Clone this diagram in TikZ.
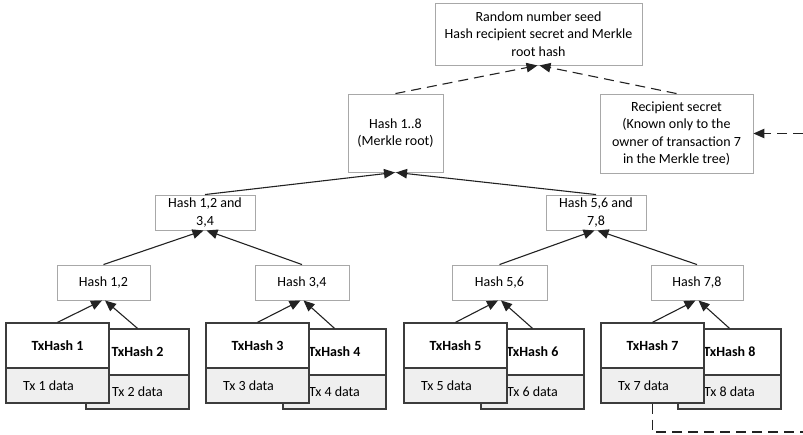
\documentclass[tikz,border=0pt]{standalone}
\usepackage{fontspec}
\setmainfont{Carlito}
\usetikzlibrary{arrows.meta}
\definecolor{boxline}{HTML}{A8A8A8}
\definecolor{txline}{HTML}{3C3C3C}
\definecolor{datafill}{HTML}{EFEFEF}
\definecolor{wire}{HTML}{222222}
\tikzset{
  hashbox/.style={draw=boxline, line width=0.9pt, fill=white, inner sep=0pt,
    align=center, font=\fontsize{14}{17.4}\selectfont},
  txhead/.style={draw=txline, line width=1.3pt, fill=white, inner sep=0pt,
    minimum width=103pt, font=\bfseries\fontsize{14}{17}\selectfont},
  txdata/.style={draw=txline, line width=1.3pt, fill=datafill, inner sep=0pt,
    minimum width=103pt, font=\fontsize{14}{17}\selectfont},
  link/.style={draw=wire, line width=1.1pt, -{Triangle[length=11pt,width=9.5pt]}},
  dlink/.style={link, dash pattern=on 10pt off 6pt},
  dline/.style={draw=wire, line width=1.1pt, dash pattern=on 10pt off 6pt},
}
\begin{document}
\begin{tikzpicture}[x=1pt, y=-1pt]
\useasboundingbox (0,0) rectangle (803,434);

% upper boxes
\node[hashbox, minimum width=207pt, minimum height=62pt] (seed) at (538.5,34)
  {Random number seed\\Hash recipient secret and Merkle\\root hash};
\node[hashbox, minimum width=95pt, minimum height=78pt] (root) at (395.5,133)
  {Hash 1..8\\(Merkle root)};
\node[hashbox, minimum width=153pt, minimum height=79pt] (recip) at (676.5,133.5)
  {Recipient secret\\(Known only to the\\owner of transaction 7\\in the Merkle tree)};

% intermediate hashes
\node[hashbox, minimum width=100pt, minimum height=35pt] (h1234) at (205,212.5) {Hash 1,2 and\\3,4};
\node[hashbox, minimum width=100pt, minimum height=35pt] (h5678) at (596,212.5) {Hash 5,6 and\\7,8};
\node[hashbox, minimum width=93pt, minimum height=35pt] (h12) at (103.5,282.5) {Hash 1,2};
\node[hashbox, minimum width=94pt, minimum height=35pt] (h34) at (302,282.5) {Hash 3,4};
\node[hashbox, minimum width=95pt, minimum height=35pt] (h56) at (499.5,282.5) {Hash 5,6};
\node[hashbox, minimum width=92pt, minimum height=35pt] (h78) at (697,282.5) {Hash 7,8};

% transaction boxes, back row (even) first
\foreach \n/\cx in {2/137.5, 4/334.5, 6/532.5, 8/729.5}{
  \node[txhead, minimum height=46pt] (t\n) at (\cx,352) {TxHash \n};
  \node[txdata, minimum height=34pt] (d\n) at (\cx,392) {Tx \n\ data};
}
\foreach \n/\cx in {1/57.5, 3/257.5, 5/455.5, 7/652.5}{
  \node[txhead, minimum height=45pt] (t\n) at (\cx,345.5) {TxHash \n};
  \node[txdata, minimum height=35pt] (d\n) at (\cx,385.5) {Tx \n\ data\hspace*{18pt}};
}

% leaf links
\draw[link] (t1.north) -- ([xshift=-1.5pt]h12.south);
\draw[link] (t2.north) -- ([xshift=1.5pt]h12.south);
\draw[link] (t3.north) -- ([xshift=-1.5pt]h34.south);
\draw[link] (t4.north) -- ([xshift=1.5pt]h34.south);
\draw[link] (t5.north) -- ([xshift=-1.5pt]h56.south);
\draw[link] (t6.north) -- ([xshift=1.5pt]h56.south);
\draw[link] (t7.north) -- ([xshift=-1.5pt]h78.south);
\draw[link] (t8.north) -- ([xshift=1.5pt]h78.south);

% inner links
\draw[link] (h12.north) -- ([xshift=-1.5pt]h1234.south);
\draw[link] (h34.north) -- ([xshift=1.5pt]h1234.south);
\draw[link] (h56.north) -- ([xshift=-1.5pt]h5678.south);
\draw[link] (h78.north) -- ([xshift=1.5pt]h5678.south);
\draw[link] (h1234.north) -- ([xshift=-0.5pt]root.south);
\draw[link] (h5678.north) -- ([xshift=0.5pt]root.south);

% seed inputs
\draw[dlink] (root.north) -- ([xshift=-1pt]seed.south);
\draw[dlink] (recip.north) -- ([xshift=1pt]seed.south);

% secret path from transaction 7
\coordinate (edgeLow) at (803,432);
\coordinate (edgeMid) at (803,133.5);
\draw[dline] (d7.south) |- (edgeLow);
\draw[dlink] (edgeMid) -- (recip.east);
\end{tikzpicture}
\end{document}
